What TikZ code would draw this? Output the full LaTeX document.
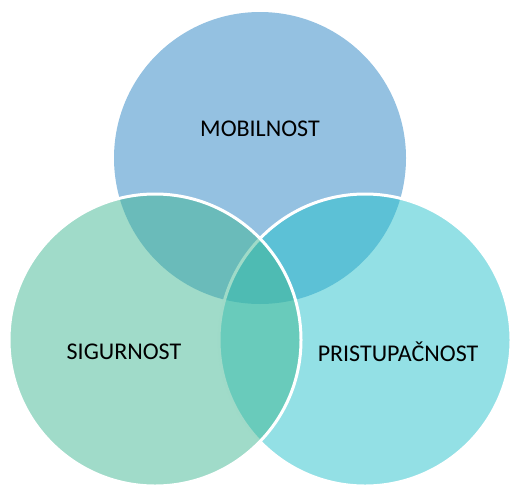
\documentclass[tikz,border=0pt]{standalone}
\usepackage{fontspec}
\setmainfont{Carlito}
\usetikzlibrary{positioning}

\definecolor{mobblue}{RGB}{41,131,195}
\definecolor{siggreen}{RGB}{65,183,147}
\definecolor{pricyan}{RGB}{39,193,203}

\begin{document}
\begin{tikzpicture}[x=1pt,y=-1pt,font=\fontsize{24}{28}\selectfont]
	\tikzstyle{every set}=[circle,minimum size=292pt,inner sep=0pt,fill opacity=0.5]
	\tikzstyle{ring}=[draw=white,line width=3pt]
	\useasboundingbox (0,0) rectangle (510,485);

	% the three sets, top first, then right, then left
	\node[every set,fill=mobblue]            (MOB) at (260,158) {};
	\node[every set,ring,fill=pricyan]       (PRI) at (365,340) {};
	\node[every set,ring,fill=siggreen]      (SIG) at (155,340) {};

	% labels
	\node (MOB_t) at (260,129) {MOBILNOST};
	\node (SIG_t) at (124,352) {SIGURNOST};
	\node (PRI_t) at (398,352) {PRISTUPAČNOST};
\end{tikzpicture}
\end{document}
